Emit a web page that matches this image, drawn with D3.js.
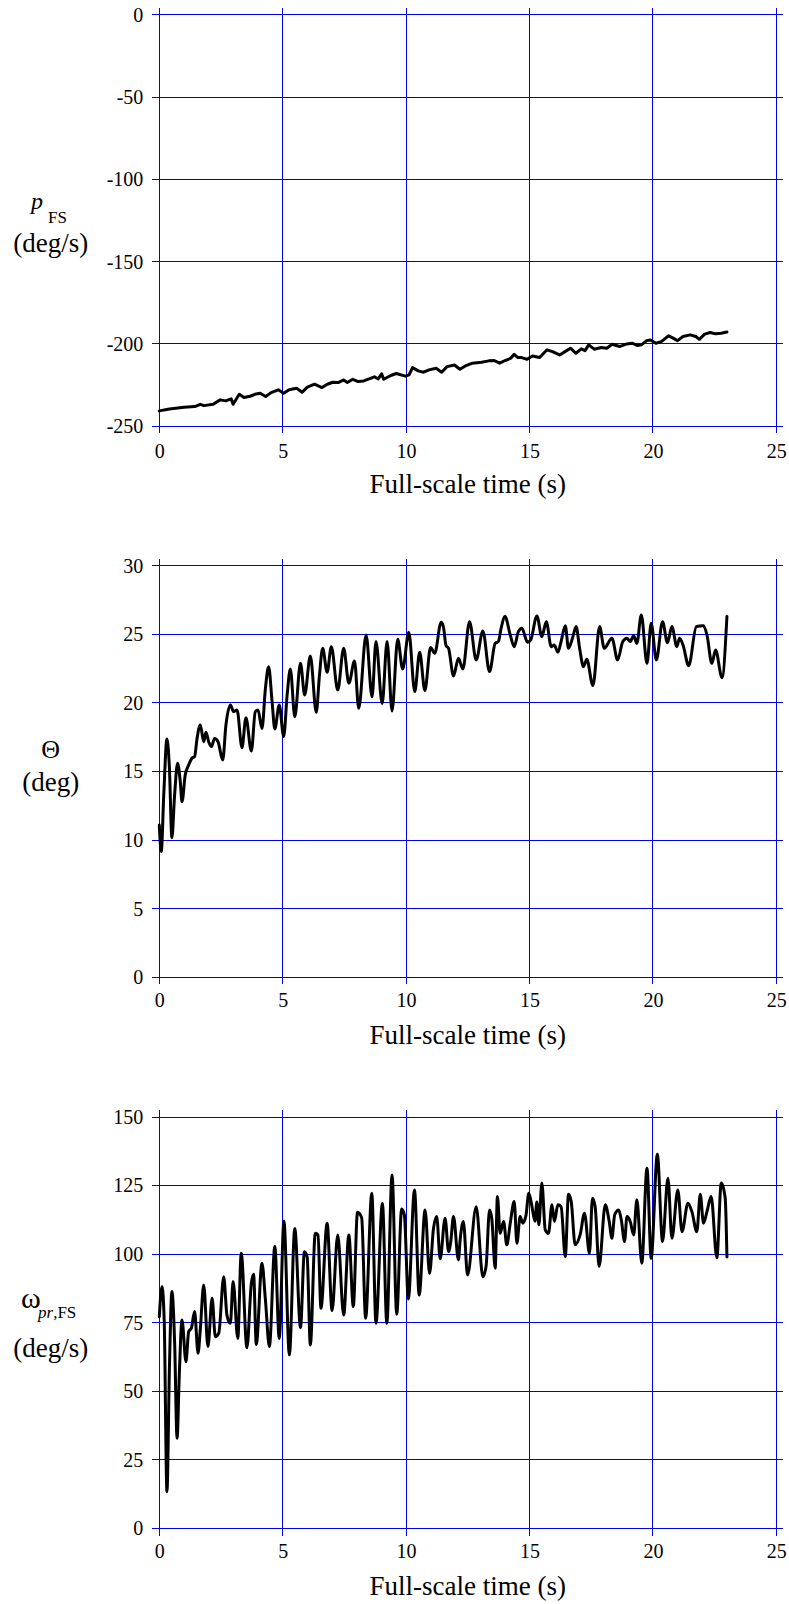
<!DOCTYPE html>
<html><head><meta charset="utf-8">
<script src="https://cdn.jsdelivr.net/npm/d3@7"></script>
<style>
body{margin:0;background:#fff}
svg{display:block}
text{font-family:"Liberation Serif","Times New Roman",serif;fill:#000}
</style>
</head><body>
<svg id="c" width="789" height="1604"></svg>
<script>
// ---------- data ----------
const timeTicks = [0, 5, 10, 15, 20, 25];
const rollTicks = [0, -50, -100, -150, -200, -250];
const pitchTicks = [0, 5, 10, 15, 20, 25, 30];
const precTicks = [0, 25, 50, 75, 100, 125, 150];
const timeTitle = "Full-scale time (s)";

// roll rate p_FS (deg/s) vs time (s)
const rollRate = [
[0.00,-240.7],[0.41,-239.5],[1.00,-238.5],[1.44,-238.1],[1.66,-236.7],[1.81,-237.5],[2.18,-236.7],[2.47,-234.0],
[2.69,-234.6],[2.91,-233.4],[2.99,-236.7],[3.24,-230.6],[3.43,-232.6],[3.68,-231.8],[3.87,-230.6],[4.09,-230.0],
[4.31,-232.0],[4.53,-229.6],[4.82,-227.9],[5.04,-230.0],[5.26,-227.9],[5.56,-226.9],[5.78,-229.4],[6.00,-226.3],
[6.29,-224.5],[6.59,-226.5],[6.81,-224.5],[7.03,-223.3],[7.25,-223.5],[7.47,-221.9],[7.62,-223.5],[7.84,-221.5],
[8.06,-222.9],[8.28,-222.5],[8.50,-221.3],[8.72,-220.0],[8.87,-221.3],[9.01,-218.2],[9.09,-221.5],[9.38,-219.2],
[9.60,-218.0],[9.97,-219.6],[10.12,-218.8],[10.26,-214.4],[10.49,-216.4],[10.71,-217.2],[10.93,-215.8],[11.22,-214.8],
[11.44,-217.2],[11.66,-213.8],[11.96,-212.8],[12.18,-215.4],[12.40,-213.4],[12.69,-211.7],[13.06,-211.1],[13.35,-210.3],
[13.57,-210.1],[13.79,-211.7],[14.01,-210.1],[14.24,-208.7],[14.38,-206.3],[14.53,-208.3],[14.68,-208.3],[14.90,-209.3],
[15.12,-207.3],[15.41,-208.3],[15.71,-203.6],[15.93,-204.7],[16.22,-206.7],[16.44,-204.7],[16.66,-202.6],[16.88,-205.7],
[17.10,-203.0],[17.25,-204.1],[17.40,-200.6],[17.62,-203.2],[17.91,-202.2],[18.13,-202.6],[18.35,-200.2],[18.65,-201.6],
[18.94,-200.0],[19.16,-199.6],[19.38,-201.0],[19.53,-200.6],[19.75,-198.0],[19.90,-197.6],[20.12,-199.6],[20.34,-198.6],
[20.63,-195.1],[20.78,-196.2],[21.00,-198.0],[21.22,-195.5],[21.51,-194.5],[21.74,-195.5],[21.88,-197.2],[22.10,-194.1],
[22.32,-193.1],[22.54,-193.9],[22.76,-193.5],[23.00,-192.8]
];

// pitch angle Theta (deg) vs time (s)
const pitchAngle = [
[0.00,11.09],[0.08,9.15],[0.18,13.28],[0.31,17.37],[0.41,15.23],[0.51,10.17],[0.62,13.28],[0.74,15.59],[0.85,14.25],
[0.92,12.79],[1.05,14.74],[1.19,15.47],[1.32,15.96],[1.43,16.08],[1.53,17.41],[1.66,18.39],[1.80,17.17],[1.89,17.85],
[2.00,17.17],[2.11,16.81],[2.24,17.41],[2.38,17.17],[2.57,15.83],[2.70,18.39],[2.88,19.85],[3.01,19.36],[3.15,19.48],
[3.35,16.73],[3.51,18.92],[3.73,16.49],[3.89,19.36],[4.00,19.48],[4.16,18.14],[4.30,21.06],[4.43,22.64],[4.57,20.09],
[4.68,18.10],[4.86,19.85],[5.04,17.54],[5.18,20.58],[5.31,22.47],[5.49,18.99],[5.72,22.88],[5.89,20.58],[6.12,23.42],
[6.36,19.31],[6.49,22.03],[6.62,23.98],[6.80,22.23],[6.97,24.10],[7.23,20.94],[7.47,23.98],[7.68,21.43],[7.91,23.05],
[8.08,19.60],[8.38,24.95],[8.62,20.45],[8.78,24.47],[9.03,19.94],[9.23,24.47],[9.43,19.41],[9.66,24.64],[9.86,22.47],
[10.11,25.15],[10.35,20.82],[10.55,23.69],[10.76,20.89],[10.99,24.03],[11.16,23.61],[11.42,25.88],
[11.51,25.56],[11.62,24.17],[11.72,23.98],[11.92,21.96],[12.12,23.25],[12.30,22.47],[12.57,25.92],[12.84,23.13],
[13.11,25.24],[13.38,22.28],[13.61,24.34],[13.74,24.47],[13.84,25.36],[14.01,26.29],[14.22,24.95],[14.38,24.10],
[14.55,25.19],[14.69,25.44],[14.92,24.42],[15.05,24.59],[15.30,26.34],[15.50,24.83],[15.68,25.92],[15.88,24.10],
[16.00,24.22],[16.15,23.69],[16.28,24.47],[16.45,25.63],[16.58,23.98],[16.74,24.71],[16.89,25.56],[17.03,23.98],
[17.19,22.64],[17.32,23.18],[17.57,21.26],[17.84,25.56],[18.03,23.98],[18.34,24.71],[18.57,23.13],[18.78,24.47],
[18.95,24.71],[19.08,24.47],[19.22,24.90],[19.35,24.34],[19.53,26.41],[19.76,22.88],[19.93,25.80],[20.14,23.13],
[20.39,25.92],[20.59,24.39],[20.77,25.56],[20.97,24.10],[21.08,24.71],[21.22,24.22],[21.45,22.71],[21.76,25.56],
[21.95,25.61],[22.05,25.63],[22.19,24.95],[22.39,22.88],[22.54,23.86],[22.80,21.84],[23.00,26.30]
];

// precession rate omega_pr,FS (deg/s) vs time (s)
const precessionRate = [
[0.00,77.2],[0.11,88.2],[0.20,75.4],[0.31,13.4],[0.41,58.4],[0.51,86.4],[0.62,68.1],[0.72,32.9],[0.81,56.0],
[0.92,76.0],[1.08,60.8],[1.19,71.8],[1.30,73.0],[1.43,79.1],[1.57,63.9],[1.66,72.4],[1.80,88.8],[1.97,66.3],
[2.14,83.9],[2.27,69.9],[2.41,71.2],[2.61,91.8],[2.74,77.8],[2.88,74.8],[2.99,90.0],[3.18,69.3],[3.32,100.3],
[3.55,65.9],[3.73,89.4],[3.82,92.7],[3.93,67.1],[4.16,96.7],[4.30,83.3],[4.46,66.3],[4.68,102.8],[4.86,69.3],
[5.05,112.1],[5.27,63.3],[5.49,109.4],[5.72,73.2],[5.88,100.9],[5.99,99.1],[6.12,66.9],[6.32,107.6],[6.43,107.0],
[6.55,80.3],[6.80,111.3],[7.00,79.4],[7.23,107.0],[7.47,77.8],[7.68,107.0],[7.86,80.9],[8.03,115.3],[8.20,113.3],
[8.36,76.6],[8.61,122.2],[8.78,74.8],[9.04,118.6],[9.22,74.8],[9.43,128.9],[9.62,78.1],[9.82,116.5],[9.93,114.3],
[10.09,83.7],[10.34,123.4],[10.53,85.1],[10.77,116.1],[10.95,93.0],[11.11,109.4],[11.24,113.7],[11.38,98.3],
[11.58,113.1],[11.72,100.9],[11.81,104.6],[11.92,113.7],[12.12,97.9],[12.19,105.2],[12.32,111.9],[12.49,92.4],
[12.84,117.3],[13.11,91.8],[13.24,95.5],[13.38,116.1],[13.47,113.1],[13.61,94.9],[13.70,121.0],[13.81,107.6],
[13.95,111.9],[14.08,103.4],[14.22,111.3],[14.38,119.2],[14.49,104.0],[14.62,113.7],[14.73,111.3],[14.86,114.3],
[14.97,122.2],[15.09,117.9],[15.22,112.0],[15.30,119.0],[15.38,110.7],[15.50,125.9],[15.64,108.8],[15.77,107.6],
[15.91,118.0],[16.01,111.9],[16.15,118.0],[16.28,117.3],[16.45,99.1],[16.58,121.8],[16.69,119.2],[16.85,103.4],
[17.05,107.0],[17.23,114.9],[17.43,100.3],[17.55,120.4],[17.66,117.3],[17.82,95.5],[18.07,118.0],[18.23,111.9],
[18.34,105.8],[18.45,114.3],[18.61,116.1],[18.72,112.5],[18.85,104.6],[18.95,113.7],[19.08,111.9],[19.22,107.0],
[19.35,119.8],[19.55,96.7],[19.76,131.3],[19.93,98.5],[20.18,136.4],[20.39,104.6],[20.61,127.7],[20.77,105.8],
[21.01,123.4],[21.18,108.2],[21.42,118.6],[21.58,115.5],[21.78,108.2],[21.92,121.8],[22.05,111.3],[22.19,115.5],
[22.36,121.0],[22.59,98.7],[22.77,125.9],[22.93,120.4],[23.00,99.0]
];

// ---------- drawing ----------
const FONT = '"Liberation Serif","Times New Roman",serif';
const svg = d3.select("#c");
const PLOT_H = 411.5;
const x = d3.scaleLinear().domain([0, 25]).range([159.3, 776.3]);
const GRID = "#0000ee";
const EXT = 7;

function panel(opt) {
  const top = opt.top, bottom = top + PLOT_H;
  const y = d3.scaleLinear().domain(opt.domain).range([bottom, top]);
  const g = svg.append("g");

  g.selectAll("line.hgrid").data(opt.ticks).join("line").attr("class", "hgrid")
    .attr("x1", x(0) - EXT).attr("x2", x(25) + EXT)
    .attr("y1", d => y(d)).attr("y2", d => y(d))
    .attr("stroke", GRID).attr("stroke-width", 1).attr("shape-rendering", "crispEdges");
  g.selectAll("line.vgrid").data(timeTicks).join("line").attr("class", "vgrid")
    .attr("x1", d => x(d)).attr("x2", d => x(d))
    .attr("y1", top - EXT).attr("y2", bottom + EXT)
    .attr("stroke", GRID).attr("stroke-width", 1).attr("shape-rendering", "crispEdges");

  const ya = g.append("g").attr("transform", `translate(${x(0)},0)`)
    .call(d3.axisLeft(y).tickValues(opt.ticks).tickSize(0).tickPadding(16).tickFormat(d => String(d)));
  ya.select(".domain").remove();
  ya.attr("font-family", FONT).attr("font-size", 20);
  ya.selectAll("text").style("font-family", FONT).style("font-size", "20px").attr("fill", "#000");

  const xa = g.append("g").attr("transform", `translate(0,${bottom})`)
    .call(d3.axisBottom(x).tickValues(timeTicks).tickSize(0).tickPadding(opt.xPad).tickFormat(d => String(d)));
  xa.select(".domain").remove();
  xa.attr("font-family", FONT).attr("font-size", 20);
  xa.selectAll("text").style("font-family", FONT).style("font-size", "20px").attr("fill", "#000");

  g.append("text").attr("x", (x(0) + x(25)) / 2).attr("y", bottom + 66.5)
    .attr("text-anchor", "middle").style("font-family", FONT).style("font-size", "27px").text(timeTitle);

  const line = d3.line().x(d => x(d[0])).y(d => y(d[1])).curve(opt.curve);
  g.append("path").datum(opt.data).attr("d", line)
    .attr("fill", "none").attr("stroke", "#000").attr("stroke-width", 3)
    .attr("stroke-linejoin", "round").attr("stroke-linecap", "round");

  opt.label(g);
  g.selectAll("text").style("font-family", FONT);
}

panel({
  top: 14.7, domain: [-250, 0], ticks: rollTicks, data: rollRate, curve: d3.curveLinear, xPad: 17.5,
  label: g => {
    g.append("text").attr("x", 31).attr("y", 209).style("font-size", "24px").style("font-style", "italic").text("p");
    g.append("text").attr("x", 48).attr("y", 222.5).style("font-size", "17px").text("FS");
    g.append("text").attr("x", 50.8).attr("y", 252).attr("text-anchor", "middle").style("font-size", "27px").text("(deg/s)");
  }
});

panel({
  top: 565.7, domain: [0, 30], ticks: pitchTicks, data: pitchAngle, curve: d3.curveMonotoneX, xPad: 15.3,
  label: g => {
    g.append("text").attr("x", 50.7).attr("y", 758).attr("text-anchor", "middle").style("font-size", "26px").text("Θ");
    g.append("text").attr("x", 50.8).attr("y", 791).attr("text-anchor", "middle").style("font-size", "27px").text("(deg)");
  }
});

panel({
  top: 1117, domain: [0, 150], ticks: precTicks, data: precessionRate, curve: d3.curveMonotoneX, xPad: 15.3,
  label: g => {
    g.append("text").attr("x", 21).attr("y", 1308).style("font-size", "30px").text("ω");
    const t = g.append("text").attr("x", 38).attr("y", 1318).style("font-size", "17px");
    t.append("tspan").style("font-style", "italic").text("pr");
    t.append("tspan").text(",FS");
    g.append("text").attr("x", 50.8).attr("y", 1357).attr("text-anchor", "middle").style("font-size", "27px").text("(deg/s)");
  }
});
</script>
</body></html>
